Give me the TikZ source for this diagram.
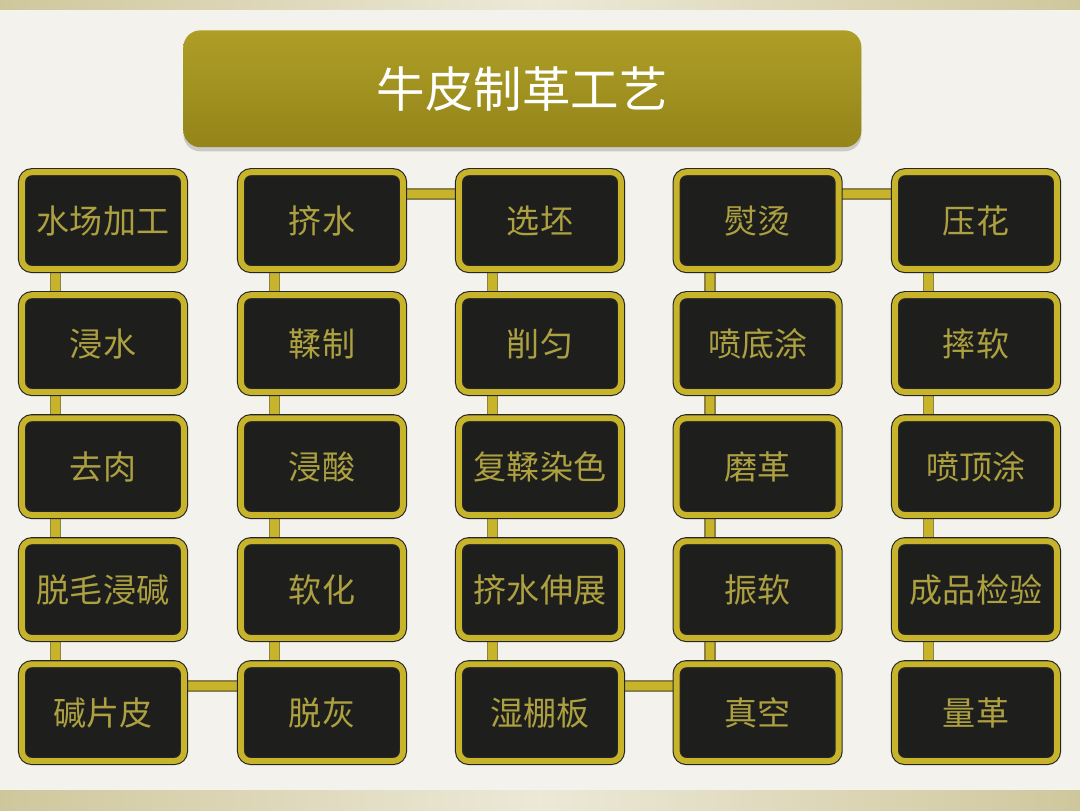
\documentclass[tikz,border=0pt]{standalone}
\usepackage{fontspec}
\newfontfamily\cjk{Noto Sans CJK SC}
\usetikzlibrary{backgrounds,shadows}
\definecolor{gold}{HTML}{C8B42A}
\definecolor{golddark}{HTML}{6E6214}
\definecolor{stepfill}{HTML}{1E1E1C}
\definecolor{steptext}{HTML}{ACA040}
\definecolor{titletop}{HTML}{AE9E26}
\definecolor{titlemid}{HTML}{9C8C1E}
\definecolor{titlebot}{HTML}{94841A}
\definecolor{paper}{HTML}{F4F2EC}
\definecolor{strip}{HTML}{CFC79C}
\tikzset{%
  stepbox/.style={
    draw=black!85, line width=0.8pt,
    double=gold, double distance=4.2pt,
    fill=stepfill, rounded corners=7pt,
    minimum width=4.05cm, minimum height=2.42cm, inner sep=0pt,
    text=steptext, font=\cjk\fontsize{23.5}{23.5}\selectfont,
    drop shadow={opacity=.3, shadow xshift=1pt, shadow yshift=-1.5pt}},
  link/.style={
    draw=golddark!80, line width=1.2pt,
    double=gold, double distance=6pt},
  titlebox/.style={
    rounded corners=12pt, minimum width=16.95cm, minimum height=2.92cm,
    top color=titletop, middle color=titlemid, bottom color=titlebot,
    text=white, font=\cjk\fontsize{34.5}{34.5}\selectfont,
    drop shadow={opacity=.35, shadow xshift=0pt, shadow yshift=-3pt}}
}

\begin{document}
\begin{tikzpicture}
		\useasboundingbox (0,0) rectangle (27,20.25);
		\node[titlebox] (title) at (13.06,18.03) {牛皮制革工艺};
		\foreach \c/\x/\names in {%
		  1/2.575/{水场加工,浸水,去肉,脱毛浸碱,碱片皮},
		  2/8.05/{挤水,鞣制,浸酸,软化,脱灰},
		  3/13.5/{选坯,削匀,复鞣染色,挤水伸展,湿棚板},
		  4/18.94/{熨烫,喷底涂,磨革,振软,真空},
		  5/24.4/{压花,摔软,喷顶涂,成品检验,量革}}
		  \foreach \t [count=\r] in \names
		    \node[stepbox] (s-\r-\c) at (\x,17.81-3.075*\r) {\t};
		\begin{scope}[on background layer]
		  \fill[paper] (0,0) rectangle (27,20.25);
		  \shade[left color=strip, right color=strip, middle color=strip!40]
		    (0,20) rectangle (27,20.25);
		  \shade[left color=strip, right color=strip, middle color=strip!40]
		    (0,0) rectangle (27,.5);
		  \foreach \c in {1,...,5}
		    \draw[link] ([xshift=.85cm]s-1-\c.west) -- ([xshift=.85cm]s-5-\c.west);
		  \foreach \a/\b in {1/2,3/4}
		    \draw[link] ([yshift=-.56cm]s-5-\a.north) -- ([yshift=-.56cm]s-5-\b.north);
		  \foreach \a/\b in {2/3,4/5}
		    \draw[link] ([yshift=-.56cm]s-1-\a.north) -- ([yshift=-.56cm]s-1-\b.north);
		\end{scope}
	\end{tikzpicture}
\end{document}
